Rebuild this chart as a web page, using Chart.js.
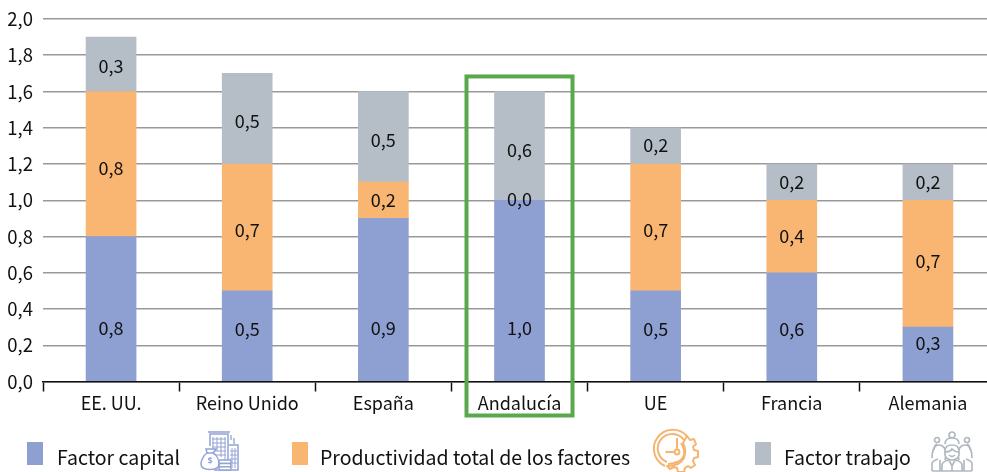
<!DOCTYPE html>
<html><head><meta charset="utf-8">
<style>
html,body{margin:0;padding:0;background:#fff;width:987px;height:472px;overflow:hidden}
#wrap{position:relative;width:987px;height:472px;overflow:hidden}
canvas{position:absolute;left:0;top:0}
svg{position:absolute;overflow:visible;filter:blur(0.45px)}
</style>
<script src="https://cdn.jsdelivr.net/npm/chart.js@4"></script>
</head><body>
<div id="wrap">
<canvas id="c" width="1000" height="472" style="width:1000px;height:472px"></canvas>
<svg style="left:200px;top:431px" width="40" height="40" viewBox="0 0 40 40" fill="none" stroke="#93a3d3" stroke-width="1.5">
<path d="M10 15V3h18v36M8 1h22M29 14h9v25H14"/>
<path d="M13 6v12M17 6v14M21 6v20M25 6v24M12 8h14M12 12h14M12 16h14M12 20h14M12 24h14M32 17v20M35 17v20M30 20h7M30 24h7M30 28h7M30 32h7" stroke-width="1"/>
<path d="M31 9v-5M34 13V7" stroke-width="1.3"/>
<path d="M6 18h10l-3 4c4 2 6 7 6 11 0 4-3 5.5-9 5.5S1 37 1 33c0-4 3-9 6-11z" fill="#fff"/>
<path d="M7 22h6"/>
<rect x="19" y="29" width="12" height="3.5" rx="1.5" fill="#fff"/><rect x="19" y="32.5" width="12" height="3.2" rx="1.5" fill="#fff"/><rect x="19" y="35.7" width="12" height="3.2" rx="1.5" fill="#fff"/>
<text x="10" y="33" text-anchor="middle" font-size="9" font-weight="700" fill="#93a3d3" stroke="none" font-family="Noto Sans">$</text>
</svg>
<svg style="left:656px;top:431px" width="44" height="41" viewBox="0 0 44 41" fill="none" stroke="#f6b56f" stroke-width="2">
<path d="M31 5A19 19 0 1 0 9 35"/>
<path d="M28 9A14.5 14.5 0 1 0 11 31"/>
<circle cx="21" cy="21" r="2.4"/>
<path d="M21 7v12M18.500 21h-9"/>
<path d="M12 33c7 0 14-3 16-9 1-5-1-9-3-12" />
<path d="M31 5l3 4 4-1 2 5-3 3 1 3 4 1v6l-4 1-1 3 2 4-4 3-3-2-3 2-1 4h-6l-1-4-3-1-4 2-3-3c7 0 14-2 17-8 2-5 1-11-1-15z" stroke-linejoin="round"/>
</svg>
<svg style="left:931px;top:431px" width="42" height="41" viewBox="0 0 42 41" fill="none" stroke="#b1b9c0" stroke-width="1.7">
<circle cx="21" cy="4" r="3"/><circle cx="6" cy="9" r="2.5"/><circle cx="36" cy="9" r="2.500"/>
<path d="M14 13c0-4 3-6 7-6s7 2 7 6M6 13c-2 1-3 3-3 6M36 13c2 1 3 3 3 6"/>
<path d="M1 27c0-5 1-13 7-13 5 0 7 5 7 9s-1 5-1 6M41 27c0-5-1-13-7-13-5 0-7 5-7 9s1 5 1 6"/>
<path d="M14 20c0-4 3-6 7-6s7 2 7 6v4c-1 4-4 5-7 5s-6-1-7-5z" fill="#fff"/>
<path d="M14 21c3 0 6-1 7-3 2 2 4 3 7 3M18 24c2 2 4 2 6 0"/>
<path d="M1 40v-7c0-3 3-4 6-5M41 40v-7c0-3-3-4-6-5M9 40V29M33 40V29M11 40v-6c0-3 3-4 7-5l3 6 3-6c4 1 7 2 7 5v6M21 35v5M1 40h40"/>
</svg>
</div>
<script>
const categories=["EE. UU.","Reino Unido","España","Andalucía","UE","Francia","Alemania"];
const factorCapital=[0.8,0.5,0.9,1.0,0.5,0.6,0.3];
const productividad=[0.8,0.7,0.2,0.0,0.7,0.4,0.7];
const factorTrabajo=[0.3,0.5,0.5,0.6,0.2,0.2,0.2];
const seriesNames=["Factor capital","Productividad total de los factores","Factor trabajo"];
const highlighted="Andalucía";
const FONT='"Noto Sans CJK JP","Noto Sans",sans-serif';
const fmt=v=>v.toFixed(1).replace('.',',');
const labelNudge=[[20,-7,29,38,-7,2,-11],[4,3,0,-1,3,0,-3],[2,2,3,4,-1,0,0]];

const barLabels={id:'barLabels',afterDatasetsDraw(ch){
  const c=ch.ctx;c.save();c.font='18px '+FONT;c.fillStyle='#111';c.textAlign='center';c.textBaseline='middle';
  ch.data.datasets.forEach((d,i)=>{ch.getDatasetMeta(i).data.forEach((b,j)=>{
    c.fillText(fmt(d.data[j]),b.x,(b.y+b.base)/2+labelNudge[i][j]);
  });});
  c.restore();
}};
const frame={id:'frame',afterDraw(ch){
  const x=ch.scales.x,y=ch.scales.y,c=ch.ctx,cx=x.getPixelForValue(categories.indexOf(highlighted));
  c.save();c.strokeStyle='#5aa84c';c.lineWidth=4;
  const top=y.getPixelForValue(1.683);
  c.strokeRect(cx-53,top,106,y.getPixelForValue(0)+34-top);
  c.restore();
}};
const legendItems={id:'legendItems',afterDraw(ch){
  const c=ch.ctx,sw=[27,292,755],tx=[57,320,784];
  c.save();c.font='19.5px '+FONT;c.textBaseline='middle';c.textAlign='left';
  ch.data.datasets.forEach((d,i)=>{
    c.fillStyle=d.backgroundColor;c.fillRect(sw[i],442,16,23);
    c.fillStyle='#111';c.fillText(d.label,tx[i],457.5);
  });
  c.restore();
}};
new Chart(document.getElementById('c'),{
  type:'bar',
  data:{labels:categories,datasets:[
    {label:seriesNames[0],data:factorCapital,backgroundColor:'#8e9fd1'},
    {label:seriesNames[1],data:productividad,backgroundColor:'#f9b672'},
    {label:seriesNames[2],data:factorTrabajo,backgroundColor:'#b5bec6'}
  ]},
  options:{
    responsive:false,animation:false,
    layout:{padding:{top:19,right:4,left:0,bottom:0}},
    datasets:{bar:{barThickness:50}},
    plugins:{legend:{display:false},tooltip:{enabled:false}},
    scales:{
      x:{stacked:true,offset:true,
        afterFit(s){s.height=90.5;},
        grid:{drawOnChartArea:false,drawTicks:true,tickLength:10,tickColor:'#111',tickWidth:1.5,offset:true},
        border:{color:'#111',width:1.5},
        ticks:{color:'#111',font:{family:FONT,size:18},maxRotation:0,autoSkip:false,padding:1}},
      y:{stacked:true,min:0,max:2,
        afterFit(s){s.width=43;},
        grid:{color:'#999',lineWidth:1.5,drawTicks:true,tickLength:8,tickColor:'transparent'},
        border:{display:false},
        ticks:{stepSize:0.2,color:'#111',font:{family:FONT,size:18.5},padding:2,callback:v=>fmt(v)}}
    }
  },
  plugins:[barLabels,frame,legendItems]
});
</script>
</body></html>
